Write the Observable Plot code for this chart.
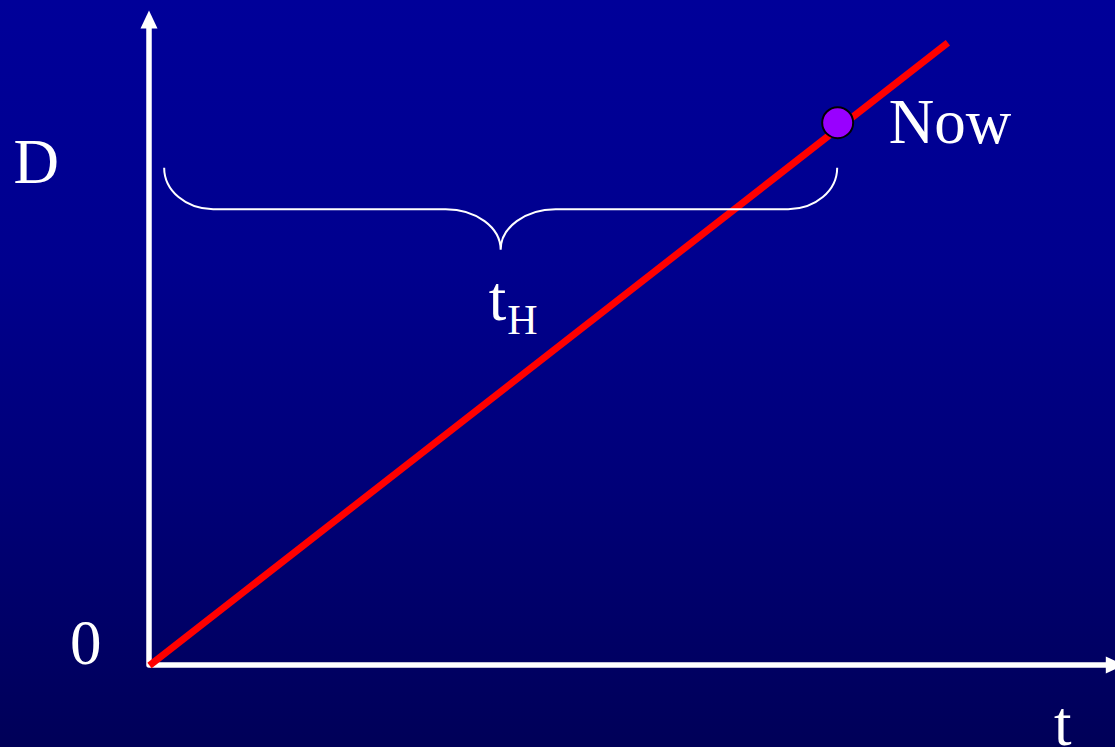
<!DOCTYPE html>
<html><head><meta charset="utf-8">
<script src="https://cdn.jsdelivr.net/npm/d3@7"></script>
<script src="https://cdn.jsdelivr.net/npm/@observablehq/plot@0.6"></script>
<style>
html,body{margin:0;padding:0;background:#000070;}
#chart{width:1115px;height:747px;overflow:hidden;background:linear-gradient(to bottom,#000099 0%,#00008e 35%,#000078 65%,#000058 100%);}
#chart svg{display:block;}
</style></head><body><div id="chart"></div>
<script>
// ---- data ----
const lineT = [0, 10];
const lineD = [0, 7.8];
const nowT = [8.62];
const nowD = [6.80];
const labelText = ["D", "0", "Now", "t"];
const labelT = [-1.42, -0.80, 9.26, 11.44];
const labelD = [6.04, 0.02, 6.54, -0.99];
const labelAnchor = ["middle", "middle", "start", "middle"];
const braceT = [0.19, 8.62];      // brace start / end
const braceD = [6.23, 5.71, 5.20]; // ends, bar, tip
const thT = [4.47];
const thD = [4.33];
const axisEndT = [12.21];
const axisEndD = [8.20];

const lineData = lineT.map((t, i) => ({t, D: lineD[i]}));
const nowData = nowT.map((t, i) => ({t, D: nowD[i]}));
const labelData = labelText.map((s, i) => ({s, t: labelT[i], D: labelD[i], a: labelAnchor[i]}));

const font = "'Liberation Serif', 'Times New Roman', serif";

function axes(index, scales) {
  const x = scales.x, y = scales.y;
  const x0 = x(0), y0 = y(0), xe = x(axisEndT[0]), ye = y(axisEndD[0]);
  const hl = 18, hw = 8.5;
  const g = d3.create("svg:g");
  g.append("path")
    .attr("d", `M${x0},${ye + hl - 1}L${x0},${y0}L${xe - hl + 1},${y0}`)
    .attr("fill", "none").attr("stroke", "white").attr("stroke-width", 5.5)
    .attr("stroke-linejoin", "round");
  g.append("path")
    .attr("d", `M${x0},${ye}L${x0 - hw},${ye + hl}L${x0 + hw},${ye + hl}Z`)
    .attr("fill", "white");
  g.append("path")
    .attr("d", `M${xe},${y0}L${xe - hl},${y0 - hw}L${xe - hl},${y0 + hw}Z`)
    .attr("fill", "white");
  return g.node();
}

function brace(index, scales) {
  const x = scales.x, y = scales.y;
  const x0 = x(braceT[0]), x1 = x(braceT[1]), xm = (x0 + x1) / 2;
  const yE = y(braceD[0]), yB = y(braceD[1]), yT = y(braceD[2]);
  const k = 0.5523;
  const rc = 49, rm = 55;
  const hc = yB - yE, hm = yT - yB;
  const d = `M${x0},${yE}` +
    `C${x0},${yE + hc * k} ${x0 + rc - rc * k},${yB} ${x0 + rc},${yB}` +
    `L${xm - rm},${yB}` +
    `C${xm - rm + rm * k},${yB} ${xm},${yT - hm * k} ${xm},${yT}` +
    `C${xm},${yT - hm * k} ${xm + rm - rm * k},${yB} ${xm + rm},${yB}` +
    `L${x1 - rc},${yB}` +
    `C${x1 - rc + rc * k},${yB} ${x1},${yE + hc * k} ${x1},${yE}`;
  return d3.create("svg:path").attr("d", d).attr("fill", "none")
    .attr("stroke", "white").attr("stroke-width", 2).node();
}

const chart = Plot.plot({
  width: 1115,
  height: 747,
  marginLeft: 149,
  marginRight: 0,
  marginTop: 0,
  marginBottom: 82,
  style: {background: "transparent", fontFamily: font, overflow: "hidden"},
  x: {domain: [0, 12.1], axis: null},
  y: {domain: [0, 8.33], axis: null},
  marks: [
    axes,
    Plot.line(lineData, {x: "t", y: "D", stroke: "#ff0000", strokeWidth: 7, strokeLinecap: "butt"}),
    brace,
    Plot.dot(nowData, {x: "t", y: "D", r: 15.5, fill: "#9900ff", stroke: "black", strokeWidth: 2}),
    Plot.text(labelData.filter(d => d.a === "middle"), {x: "t", y: "D", text: "s", fill: "white", fontSize: 63, textAnchor: "middle", lineAnchor: "bottom"}),
    Plot.text(labelData.filter(d => d.a === "start"), {x: "t", y: "D", text: "s", fill: "white", fontSize: 63, textAnchor: "start", lineAnchor: "bottom"}),
    Plot.text(thT.map((t, i) => ({t, D: thD[i]})), {x: "t", y: "D", text: () => "t", fill: "white", fontSize: 63, textAnchor: "end", lineAnchor: "bottom"}),
    Plot.text(thT.map((t, i) => ({t, D: thD[i]})), {x: "t", y: "D", text: () => "H", fill: "white", fontSize: 42, textAnchor: "start", lineAnchor: "bottom", dx: 1, dy: 14})
  ]
});
document.getElementById("chart").appendChild(chart);
</script></body></html>
